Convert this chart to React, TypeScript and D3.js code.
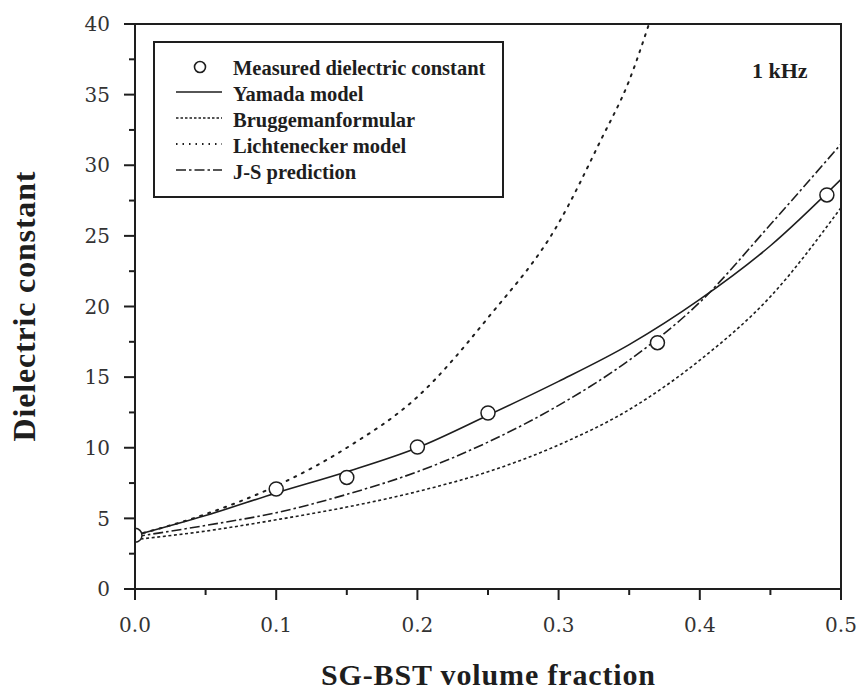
import React from "react";
import * as d3 from "d3";

const curveX = [0, 0.05, 0.1, 0.15, 0.2, 0.25, 0.3, 0.35, 0.4, 0.45, 0.5];
const yamada = [3.8, 5.2, 6.8, 8.3, 10.0, 12.3, 14.7, 17.3, 20.5, 24.3, 29.0];
const bruggeman = [3.5, 4.1, 4.9, 5.8, 6.9, 8.3, 10.2, 12.7, 16.2, 20.7, 27.0];
const jsPrediction = [3.7, 4.5, 5.4, 6.7, 8.3, 10.4, 13.0, 16.2, 20.3, 25.8, 31.5];
const lichtX = [0, 0.05, 0.1, 0.15, 0.2, 0.25, 0.3, 0.33, 0.35, 0.364];
const lichtenecker = [3.8, 5.3, 7.3, 10.0, 13.6, 19.2, 25.9, 31.8, 36.0, 40.0];
const measuredX = [0, 0.1, 0.15, 0.2, 0.25, 0.37, 0.49];
const measuredY = [3.8, 7.08, 7.9, 10.05, 12.46, 17.44, 27.9];
const xTicks = [0, 0.1, 0.2, 0.3, 0.4, 0.5];
const yTicks = [0, 5, 10, 15, 20, 25, 30, 35, 40];
const legendLabels = [
  "Measured dielectric constant",
  "Yamada model",
  "Bruggemanformular",
  "Lichtenecker model",
  "J-S prediction",
];

const L = 135, R = 841, T = 24, B = 589;
const ink = "#1e1e1e";

export default function App() {
  const x = d3.scaleLinear().domain([0, 0.5]).range([L, R]);
  const y = d3.scaleLinear().domain([0, 40]).range([B, T]);
  const line = (xs: number[], ys: number[]) =>
    d3
      .line<number>()
      .x((_, i) => x(xs[i]))
      .y((d) => y(d))
      .curve(d3.curveMonotoneX)(ys) as string;

  const minorX = d3.range(0.05, 0.5, 0.1);
  const minorY = d3.range(2.5, 40, 5);
  const styles = [
    { key: "yamada", d: line(curveX, yamada), dash: "none", w: 1.6 },
    { key: "brug", d: line(curveX, bruggeman), dash: "3,2.6", w: 1.6 },
    { key: "licht", d: line(lichtX, lichtenecker), dash: "2,6.5", w: 2 },
    { key: "js", d: line(curveX, jsPrediction), dash: "10,3,2.5,3", w: 1.6 },
  ];
  const serif = "'Liberation Serif', 'Times New Roman', serif";
  const tickFont = "'DejaVu Serif', serif";
  const legX0 = 176, legX1 = 222, legTextX = 233;
  const legBase = [75, 101, 127, 153, 179];

  return (
    <svg
      width={862}
      height={690}
      style={{ position: "fixed", left: 0, top: 0, background: "#fff" }}
    >
      <defs>
        <clipPath id="plot">
          <rect x={L} y={T} width={R - L} height={B - T} />
        </clipPath>
      </defs>
      <rect x={0} y={0} width={862} height={690} fill="#fff" />

      {/* curves */}
      <g clipPath="url(#plot)" fill="none" stroke={ink}>
        {styles.map((s) => (
          <path
            key={s.key}
            d={s.d}
            strokeWidth={s.w}
            strokeDasharray={s.dash}
            strokeLinecap={s.key === "licht" ? "round" : "butt"}
          />
        ))}
        {measuredX.map((v, i) => (
          <circle
            key={i}
            cx={x(v)}
            cy={y(measuredY[i])}
            r={7}
            fill="#fff"
            stroke={ink}
            strokeWidth={1.5}
          />
        ))}
      </g>

      {/* frame */}
      <rect x={L} y={T} width={R - L} height={B - T} fill="none" stroke={ink} strokeWidth={2} />

      {/* x ticks */}
      {xTicks.map((t) => (
        <g key={"xt" + t}>
          <line x1={x(t)} x2={x(t)} y1={B} y2={B + 11} stroke={ink} strokeWidth={2} />
          <text
            x={x(t)}
            y={632}
            textAnchor="middle"
            fontFamily={tickFont}
            fontSize={20}
            fill="#333"
          >
            {t.toFixed(1)}
          </text>
        </g>
      ))}
      {minorX.map((t) => (
        <line key={"xm" + t} x1={x(t)} x2={x(t)} y1={B} y2={B + 6} stroke={ink} strokeWidth={2} />
      ))}

      {/* y ticks */}
      {yTicks.map((t) => (
        <g key={"yt" + t}>
          <line x1={L - 11} x2={L} y1={y(t)} y2={y(t)} stroke={ink} strokeWidth={2} />
          <text
            x={110}
            y={y(t)}
            dy="0.36em"
            textAnchor="end"
            fontFamily={tickFont}
            fontSize={20}
            fill="#333"
          >
            {t}
          </text>
        </g>
      ))}
      {minorY.map((t) => (
        <line key={"ym" + t} x1={L - 6} x2={L} y1={y(t)} y2={y(t)} stroke={ink} strokeWidth={2} />
      ))}

      {/* axis titles */}
      <text
        x={(L + R) / 2}
        y={685}
        textAnchor="middle"
        fontFamily={serif}
        fontWeight="bold"
        fontSize={30}
        textLength={334}
        lengthAdjust="spacing"
        fill={ink}
      >
        SG-BST volume fraction
      </text>
      <text
        transform={`translate(35, ${(T + B) / 2}) rotate(-90)`}
        textAnchor="middle"
        fontFamily={serif}
        fontWeight="bold"
        fontSize={32}
        textLength={270}
        lengthAdjust="spacing"
        fill={ink}
      >
        Dielectric constant
      </text>

      {/* legend */}
      <rect x={154} y={42} width={349} height={155} fill="#fff" stroke={ink} strokeWidth={2} />
      <circle cx={200} cy={67} r={5.5} fill="#fff" stroke={ink} strokeWidth={1.6} />
      {styles.map((s, i) => (
        <line
          key={"lg" + s.key}
          x1={legX0}
          x2={legX1}
          y1={legBase[i + 1] - 9}
          y2={legBase[i + 1] - 9}
          stroke={ink}
          strokeWidth={s.key === "licht" ? 1.8 : 1.4}
          strokeDasharray={s.key === "licht" ? "1.5,5" : s.key === "brug" ? "2.5,2" : s.dash}
        />
      ))}
      {legendLabels.map((lab, i) => (
        <text
          key={lab}
          x={legTextX}
          y={legBase[i]}
          fontFamily={serif}
          fontWeight="bold"
          fontSize={20.5}
          fill={ink}
        >
          {lab}
        </text>
      ))}
      <text x={752} y={78} fontFamily={serif} fontWeight="bold" fontSize={22} fill={ink}>
        1 kHz
      </text>
    </svg>
  );
}
